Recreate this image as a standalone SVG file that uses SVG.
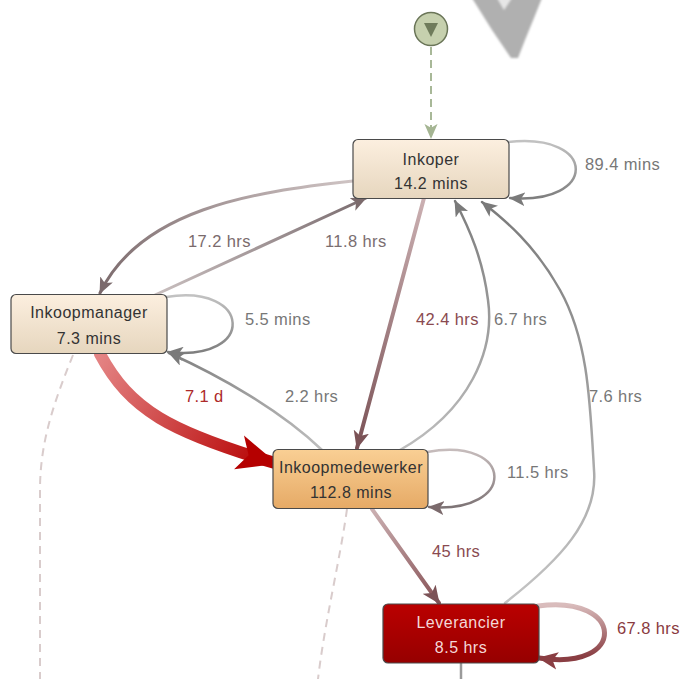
<svg xmlns="http://www.w3.org/2000/svg" width="692" height="679" viewBox="0 0 692 679">
<defs>
<style>
.nt{font-family:"Liberation Sans",Arial,sans-serif;font-size:16px;letter-spacing:0.5px;text-anchor:middle;fill:#333}
.lt{font-family:"Liberation Sans",Arial,sans-serif;font-size:16.5px;letter-spacing:0.4px;fill:#777}
.box{stroke:#4a4a4a;stroke-width:1.2}
.e{fill:none;stroke-linecap:round}
.dash{fill:none;stroke:#d9cccc;stroke-width:2;stroke-dasharray:8 6}
</style>
<linearGradient id="gBeige" x1="0" y1="0" x2="0" y2="1"><stop offset="0" stop-color="#fcefdf"/><stop offset="1" stop-color="#e6d6be"/></linearGradient>
<linearGradient id="gOrange" x1="0" y1="0" x2="0" y2="1"><stop offset="0" stop-color="#f9cf94"/><stop offset="1" stop-color="#e6aa66"/></linearGradient>
<linearGradient id="gRed" x1="0" y1="0" x2="0" y2="1"><stop offset="0" stop-color="#ba0000"/><stop offset="1" stop-color="#960000"/></linearGradient>
<linearGradient id="g2" gradientUnits="userSpaceOnUse" x1="353" y1="180" x2="100" y2="293"><stop offset="0" stop-color="#cfc4c4"/><stop offset="1" stop-color="#7b6a6c"/></linearGradient>
<linearGradient id="g3" gradientUnits="userSpaceOnUse" x1="155" y1="295" x2="365" y2="198"><stop offset="0" stop-color="#c9bfbf"/><stop offset="1" stop-color="#7b6d70"/></linearGradient>
<linearGradient id="g5" gradientUnits="userSpaceOnUse" x1="100" y1="354" x2="275" y2="463"><stop offset="0" stop-color="#e48484"/><stop offset="1" stop-color="#b50000"/></linearGradient>
<linearGradient id="g7" gradientUnits="userSpaceOnUse" x1="424" y1="198" x2="358" y2="448"><stop offset="0" stop-color="#cbb0b2"/><stop offset="1" stop-color="#7b5256"/></linearGradient>
<linearGradient id="g11" gradientUnits="userSpaceOnUse" x1="372" y1="509" x2="438" y2="602"><stop offset="0" stop-color="#cbb0b2"/><stop offset="1" stop-color="#885357"/></linearGradient>
<linearGradient id="g12" gradientUnits="userSpaceOnUse" x1="538" y1="606" x2="540" y2="658"><stop offset="0" stop-color="#d9bcbc"/><stop offset="1" stop-color="#8a3e43"/></linearGradient>
<linearGradient id="gGrayV" gradientUnits="userSpaceOnUse" x1="0" y1="604" x2="0" y2="200"><stop offset="0" stop-color="#c4c4c4"/><stop offset="1" stop-color="#7a7a7a"/></linearGradient>
<linearGradient id="gGray8" gradientUnits="userSpaceOnUse" x1="0" y1="450" x2="0" y2="200"><stop offset="0" stop-color="#bdbdbd"/><stop offset="1" stop-color="#7c7c7c"/></linearGradient>
<linearGradient id="gGray6" gradientUnits="userSpaceOnUse" x1="322" y1="450" x2="168" y2="352"><stop offset="0" stop-color="#bdbdbd"/><stop offset="1" stop-color="#7f7f7f"/></linearGradient>
<linearGradient id="gLoopG" x1="0" y1="0" x2="0" y2="1"><stop offset="0" stop-color="#c2c2c2"/><stop offset="1" stop-color="#7e7e7e"/></linearGradient>
<linearGradient id="gLoopB" x1="0" y1="0" x2="0" y2="1"><stop offset="0" stop-color="#c6bcbc"/><stop offset="1" stop-color="#7d7375"/></linearGradient>
<marker id="mGray" viewBox="0 0 16 14" refX="15" refY="7" markerWidth="16" markerHeight="14" markerUnits="userSpaceOnUse" orient="auto"><path d="M0,0 L16,7 L0,14 L4,7 z" fill="#7a7a7a"/></marker>
<marker id="mBrownG" viewBox="0 0 16 14" refX="15" refY="7" markerWidth="16" markerHeight="14" markerUnits="userSpaceOnUse" orient="auto"><path d="M0,0 L16,7 L0,14 L4,7 z" fill="#7b6a6c"/></marker>
<marker id="mBrown" viewBox="0 0 16 14" refX="15" refY="7" markerWidth="18" markerHeight="16" markerUnits="userSpaceOnUse" orient="auto"><path d="M0,0 L16,7 L0,14 L4,7 z" fill="#7b5256"/></marker>
<marker id="mBrown2" viewBox="0 0 16 14" refX="15" refY="7" markerWidth="20" markerHeight="18" markerUnits="userSpaceOnUse" orient="auto"><path d="M0,0 L16,7 L0,14 L4,7 z" fill="#8a3e43"/></marker>
<marker id="mRed" viewBox="0 0 16 14" refX="15" refY="7" markerWidth="40" markerHeight="36" markerUnits="userSpaceOnUse" orient="auto"><path d="M0,0 L16,7 L0,14 L4,7 z" fill="#b50000"/></marker>
<marker id="mGreen" viewBox="0 0 16 14" refX="15" refY="7" markerWidth="15" markerHeight="14" markerUnits="userSpaceOnUse" orient="auto"><path d="M0,0 L16,7 L0,14 L4,7 z" fill="#a5b593"/></marker>
<filter id="blur" x="-20%" y="-20%" width="140%" height="140%"><feGaussianBlur stdDeviation="1.2"/></filter>
</defs>

<g id="bg-shape" filter="url(#blur)">
<polygon points="472,-2 542,-2 534,18 525,40 518,58 511,58 492,30" fill="#b0b0b0"/>
<polygon points="497,-2 512,-2 504,10" fill="#e6e6e6"/>
</g>

<g id="connectors">
<path class="dash" d="M73,355 C55,400 40,440 40,490 L40,679"/>
<path class="dash" d="M347,509 C340,560 325,620 318,679"/>
<line x1="461" y1="663" x2="461" y2="679" stroke="#9a9a9a" stroke-width="2.5"/>
<path d="M431,47 L431,138" fill="none" stroke="#a8b898" stroke-width="2" stroke-dasharray="8 5" marker-end="url(#mGreen)"/>
<path class="e" d="M508,142 C598,132 598,205 510,198" stroke="url(#gLoopG)" stroke-width="2.5" marker-end="url(#mGray)"/>
<path class="e" d="M353,181 C250,192 140,210 100,293" stroke="url(#g2)" stroke-width="3" marker-end="url(#mBrownG)"/>
<path class="e" d="M155,295 L366,198" stroke="url(#g3)" stroke-width="3" marker-end="url(#mBrownG)"/>
<path class="e" d="M166,297 C252,283 257,362 168,352" stroke="url(#gLoopG)" stroke-width="2.5" marker-end="url(#mGray)"/>
<path class="e" d="M322,450 C280,410 220,376 169,353" stroke="url(#gGray6)" stroke-width="2.5" marker-end="url(#mGray)"/>
<path class="e" d="M100,354 C130,410 170,432 275,463" stroke="url(#g5)" stroke-width="12" stroke-linecap="butt" marker-end="url(#mRed)"/>
<path class="e" d="M424,198 L357,448" stroke="url(#g7)" stroke-width="4" marker-end="url(#mBrown)"/>
<path class="e" d="M400,450 C470,410 495,350 488,300 C483,260 470,230 455,201" stroke="url(#gGray8)" stroke-width="2.5" marker-end="url(#mGray)"/>
<path class="e" d="M505,603 C560,560 598,520 594,470 C590,400 588,340 560,290 C535,245 505,220 482,202" stroke="url(#gGrayV)" stroke-width="2.5" marker-end="url(#mGray)"/>
<path class="e" d="M427,452 C515,436 518,514 429,507" stroke="url(#gLoopB)" stroke-width="2.5" marker-end="url(#mBrownG)"/>
<path class="e" d="M372,509 L439,603" stroke="url(#g11)" stroke-width="4" marker-end="url(#mBrown)"/>
<path class="e" d="M538,606 C625,594 628,672 539,658" stroke="url(#g12)" stroke-width="5" marker-end="url(#mBrown2)"/>
</g>

<g id="labels">
<text class="lt" x="585" y="170">89.4 mins</text>
<text class="lt" x="188" y="247" style="fill:#7a6a6c">17.2 hrs</text>
<text class="lt" x="325" y="247" style="fill:#7a6e70">11.8 hrs</text>
<text class="lt" x="245" y="325">5.5 mins</text>
<text class="lt" x="185" y="402" style="fill:#ad2a2a">7.1 d</text>
<text class="lt" x="285" y="402">2.2 hrs</text>
<text class="lt" x="416" y="325" style="fill:#8a4a50">42.4 hrs</text>
<text class="lt" x="494" y="325">6.7 hrs</text>
<text class="lt" x="589" y="402">7.6 hrs</text>
<text class="lt" x="507" y="478">11.5 hrs</text>
<text class="lt" x="432" y="557" style="fill:#8a4a50">45 hrs</text>
<text class="lt" x="617" y="634" style="fill:#8a3a40">67.8 hrs</text>
</g>

<g id="start">
<circle cx="431" cy="29" r="16.5" fill="#c6d0ae" stroke="#6a7558" stroke-width="1.5"/>
<polygon points="424,23 438,23 431,37" fill="#6f7b5b"/>
</g>

<g id="inkoper">
<rect class="box" x="353" y="139.5" width="156" height="59" rx="5" fill="url(#gBeige)"/>
<text class="nt" x="431" y="165">Inkoper</text>
<text class="nt" x="431" y="189">14.2 mins</text>
</g>

<g id="inkoopmanager">
<rect class="box" x="11" y="294.5" width="156" height="59" rx="5" fill="url(#gBeige)"/>
<text class="nt" x="89" y="318">Inkoopmanager</text>
<text class="nt" x="89" y="344">7.3 mins</text>
</g>

<g id="inkoopmedewerker">
<rect class="box" x="273" y="449.5" width="155" height="59" rx="5" fill="url(#gOrange)"/>
<text class="nt" x="351" y="473">Inkoopmedewerker</text>
<text class="nt" x="351" y="498">112.8 mins</text>
</g>

<g id="leverancier">
<rect class="box" x="383" y="604" width="156" height="59" rx="5" fill="url(#gRed)"/>
<text class="nt" x="461" y="628" style="fill:#f4d8d8">Leverancier</text>
<text class="nt" x="461" y="653" style="fill:#f4d8d8">8.5 hrs</text>
</g>
</svg>
